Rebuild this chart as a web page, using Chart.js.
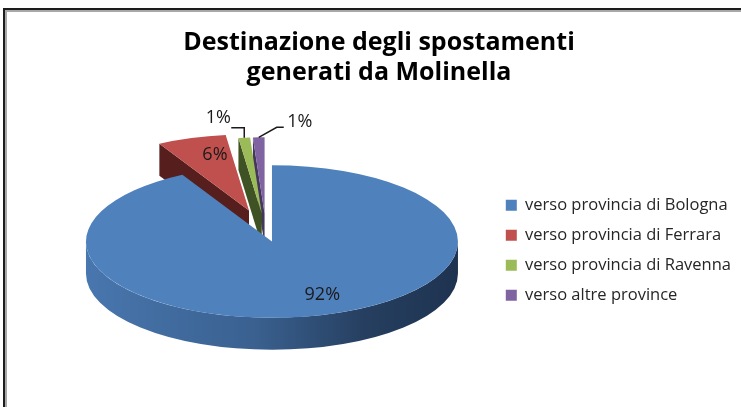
<!DOCTYPE html>
<html lang="it">
<head>
<meta charset="UTF-8">
<title>Destinazione degli spostamenti generati da Molinella</title>
<script src="https://cdn.jsdelivr.net/npm/chart.js"></script>
<style>
  html, body { margin: 0; padding: 0; background: #fff; }
  #wrap { position: relative; width: 741px; height: 407px; overflow: hidden; }
  #frame { position: absolute; left: 3px; top: 8px; right: -10px; bottom: -10px;
           border-top: 2px solid #1c1c1c; border-left: 2px solid #1c1c1c; }
  #frame div { position: absolute; left: 0; top: 0; right: 0; bottom: 0;
               border-top: 2px solid #a8a8a8; border-left: 2px solid #a8a8a8; }
  canvas { position: absolute; left: 0; top: 0; }
</style>
</head>
<body>
<div id="wrap">
  <div id="frame"><div></div></div>
  <canvas id="pie" width="741" height="407"></canvas>
</div>
<script>
const categories = ['verso provincia di Bologna', 'verso provincia di Ferrara', 'verso provincia di Ravenna', 'verso altre province'];
const shares = [92, 6, 1, 1];
const titleLines = ['Destinazione degli spostamenti', 'generati da Molinella'];

const topColors = ['#4f81bd', '#c0504d', '#9bbb59', '#8064a2'];
const sideColors = ['#2f5079', '#561f1e', '#3f5223', '#45365c'];

// fake 3D: the arcs chart.js computes get squashed and extruded
const view = { cx: 266, cy: 232, tilt: 0.41, depth: 32 };
const explode = [24, 55, 45, 45];
// label placement: inside = fraction of radius (+ nudge), outside = offset from rim with leader
const labelPlace = [
  { f: 0.72, dx: 17, dy: 0 },
  { f: 0.68, dx: 5, dy: -6 },
  { out: [-26, -20], leader: [[0, 0], [0, -10], [-13, -10]] },
  { out: [41, -15], leader: [[0, 0], [18, -10], [25, -10]] }
];

function midAngle(el) { return (el.startAngle + el.endAngle) / 2; }
function sliceCenter(el, i) {
  const m = midAngle(el);
  return { x: view.cx + Math.cos(m) * explode[i], y: view.cy + Math.sin(m) * explode[i] * view.tilt };
}

const pie3d = {
  id: 'pie3d',
  afterDatasetsUpdate(chart) {
    chart.getDatasetMeta(0).data.forEach((el, i) => {
      if (el._squashed) return;
      const draw = el.draw;
      el.draw = function (ctx) {
        const c = sliceCenter(this, i);
        ctx.save();
        ctx.translate(c.x, c.y);
        ctx.scale(1, view.tilt);
        ctx.translate(-this.x, -this.y);
        draw.call(this, ctx);
        ctx.restore();
      };
      el._squashed = true;
    });
  },
  beforeDatasetsDraw(chart) {
    const ctx = chart.ctx;
    const arcs = chart.getDatasetMeta(0).data;
    const h = view.depth;
    const order = arcs.map((el, i) => i).sort((a, b) => Math.sin(midAngle(arcs[a])) - Math.sin(midAngle(arcs[b])));
    order.forEach(i => {
      const el = arcs[i];
      const c = sliceCenter(el, i);
      const R = el.outerRadius, ry = R * view.tilt;
      let fill = sideColors[i];
      if (i === 0) {
        const g = ctx.createLinearGradient(c.x - R, 0, c.x + R, 0);
        g.addColorStop(0, '#4876ae');
        g.addColorStop(0.45, '#3a6190');
        g.addColorStop(0.75, '#263f60');
        g.addColorStop(1, '#1e3350');
        fill = g;
      }
      ctx.save();
      ctx.fillStyle = fill;
      // cut faces that look toward the viewer
      const faces = [];
      if (Math.cos(el.startAngle) < -1e-6) faces.push(el.startAngle);
      if (Math.cos(el.endAngle) > 1e-6) faces.push(el.endAngle);
      faces.forEach(a => {
        const ox = c.x + R * Math.cos(a), oy = c.y + ry * Math.sin(a);
        ctx.beginPath();
        ctx.moveTo(c.x, c.y);
        ctx.lineTo(ox, oy);
        ctx.lineTo(ox, oy + h);
        ctx.lineTo(c.x, c.y + h);
        ctx.closePath();
        ctx.fill();
      });
      // front rim
      const a1 = Math.max(el.startAngle, 0), a2 = Math.min(el.endAngle, Math.PI);
      if (a2 > a1) {
        ctx.beginPath();
        ctx.ellipse(c.x, c.y, R, ry, 0, a1, a2, false);
        ctx.lineTo(c.x + R * Math.cos(a2), c.y + ry * Math.sin(a2) + h);
        ctx.ellipse(c.x, c.y + h, R, ry, 0, a2, a1, true);
        ctx.closePath();
        ctx.fill();
      }
      ctx.restore();
    });
  },
  afterDatasetsDraw(chart) {
    const ctx = chart.ctx;
    const arcs = chart.getDatasetMeta(0).data;
    const total = shares.reduce((s, v) => s + v, 0);
    ctx.save();
    ctx.font = '18px "Open Sans"';
    ctx.fillStyle = '#1a1a1a';
    ctx.strokeStyle = '#1a1a1a';
    ctx.lineWidth = 1.5;
    ctx.textAlign = 'center';
    ctx.textBaseline = 'middle';
    arcs.forEach((el, i) => {
      const c = sliceCenter(el, i);
      const m = midAngle(el);
      const R = el.outerRadius, ry = R * view.tilt;
      const txt = Math.round(shares[i] / total * 100) + '%';
      const p = labelPlace[i];
      if (p.out) {
        const rx = c.x + R * Math.cos(m), rimY = c.y + ry * Math.sin(m);
        ctx.beginPath();
        p.leader.forEach(([dx, dy], k) => k ? ctx.lineTo(rx + dx, rimY + dy) : ctx.moveTo(rx + dx, rimY + dy));
        ctx.stroke();
        ctx.fillText(txt, rx + p.out[0], rimY + p.out[1]);
      } else {
        ctx.fillText(txt, c.x + R * p.f * Math.cos(m) + p.dx, c.y + ry * p.f * Math.sin(m) + p.dy);
      }
    });
    ctx.restore();
  }
};

Chart.defaults.font.family = '"Open Sans"';

new Chart(document.getElementById('pie'), {
  type: 'pie',
  data: {
    labels: categories,
    datasets: [{
      data: shares,
      backgroundColor: topColors,
      borderWidth: 0
    }]
  },
  options: {
    responsive: false,
    animation: false,
    events: [],
    radius: 186,
    layout: { padding: { left: 17, right: 0 } },
    plugins: {
      title: {
        display: true,
        text: titleLines,
        color: '#000',
        font: { size: 25, weight: 'bold', lineHeight: 1.2 },
        padding: { top: 28, bottom: 20 }
      },
      legend: {
        position: 'right',
        align: 'start',
        // empty legend title only pushes the entries down
        title: { display: true, text: '', font: { size: 12 }, padding: { top: 169, bottom: 0 } },
        labels: {
          boxWidth: 11,
          boxHeight: 11,
          padding: 13.5,
          color: '#262626',
          font: { size: 16.5 }
        }
      },
      tooltip: { enabled: false }
    }
  },
  plugins: [pie3d]
});
</script>
</body>
</html>
